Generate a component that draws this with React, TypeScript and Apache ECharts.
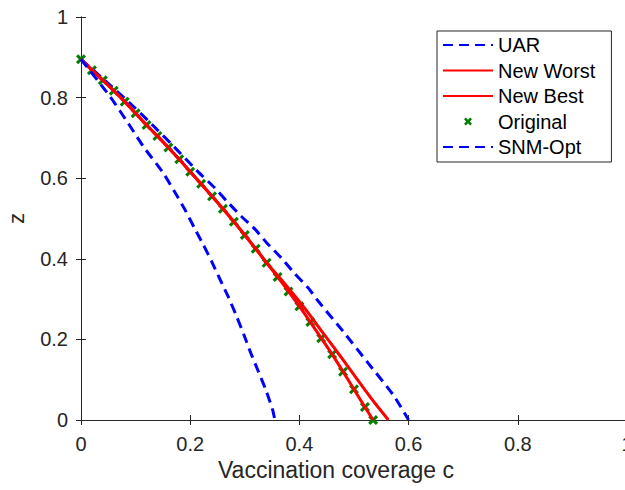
import { useEffect, useRef } from "react";
import * as echarts from "echarts";

// ---- data ----
const xTickLabels = ["0", "0.2", "0.4", "0.6", "0.8", "1"];
const yTickLabels = ["0", "0.2", "0.4", "0.6", "0.8", "1"];

const uarC = [0, 0.05, 0.1, 0.139, 0.169, 0.215, 0.245, 0.267, 0.294, 0.319, 0.34, 0.367, 0.389, 0.416, 0.435, 0.48, 0.526, 0.572, 0.6];
const uarZ = [0.895, 0.835, 0.773, 0.721, 0.68, 0.615, 0.576, 0.543, 0.505, 0.473, 0.44, 0.402, 0.367, 0.328, 0.294, 0.22, 0.141, 0.062, 0];

const worstC = [0, 0.04, 0.08, 0.12, 0.16, 0.2, 0.24, 0.28, 0.32, 0.34, 0.36, 0.38, 0.4, 0.42, 0.44, 0.46, 0.48, 0.5, 0.52, 0.54, 0.563];
const worstZ = [0.895, 0.843, 0.79, 0.732, 0.676, 0.616, 0.555, 0.492, 0.425, 0.39, 0.359, 0.327, 0.294, 0.259, 0.222, 0.186, 0.149, 0.112, 0.075, 0.039, 0];

const bestC = [0, 0.02, 0.04, 0.06, 0.08, 0.1, 0.12, 0.14, 0.16, 0.18, 0.2, 0.22, 0.24, 0.26, 0.28, 0.3, 0.32, 0.34, 0.36, 0.38, 0.4, 0.42, 0.44, 0.46, 0.48, 0.5, 0.52, 0.535];
const bestZ = [0.895, 0.868, 0.843, 0.817, 0.79, 0.761, 0.732, 0.705, 0.676, 0.647, 0.616, 0.586, 0.555, 0.524, 0.492, 0.459, 0.425, 0.39, 0.355, 0.319, 0.282, 0.243, 0.203, 0.163, 0.12, 0.076, 0.032, 0];

const origC = bestC;
const origZ = bestZ;

const snmC = [0, 0.053, 0.09, 0.114, 0.15, 0.172, 0.19, 0.209, 0.224, 0.239, 0.255, 0.27, 0.285, 0.2985, 0.311, 0.325, 0.339, 0.351, 0.355];
const snmZ = [0.895, 0.803, 0.729, 0.679, 0.614, 0.565, 0.523, 0.473, 0.435, 0.394, 0.348, 0.305, 0.257, 0.211, 0.166, 0.12, 0.073, 0.025, 0];

const zip = (a: number[], b: number[]) => a.map((v, i) => [v, b[i]]);

const FONT = "Liberation Sans, Arial, Helvetica, sans-serif";
const TXT = "#262626";
const XMARK = "path://M0,2.2 L2.2,0 L5,2.8 L7.8,0 L10,2.2 L7.2,5 L10,7.8 L7.8,10 L5,7.2 L2.2,10 L0,7.8 L2.8,5 Z";

export default function App() {
  const ref = useRef<HTMLDivElement>(null);
  useEffect(() => {
    if (!ref.current) return;
    const chart = echarts.init(ref.current, undefined, { renderer: "svg" });
    const axisCommon = {
      type: "value" as const,
      min: 0,
      max: 1,
      interval: 0.2,
      axisLine: { show: true, lineStyle: { color: TXT, width: 1 } },
      axisTick: { show: true, inside: true, length: 5, lineStyle: { color: TXT, width: 1 } },
      splitLine: { show: false },
    };
    const dashed = { color: "#0000ff", width: 3, type: [10, 6] as number[] };
    const hideSym = { opacity: 0 };
    chart.setOption({
      animation: false,
      backgroundColor: "#ffffff",
      grid: { left: 81, top: 17, width: 546, height: 403, containLabel: false, outerBoundsMode: "none" },
      xAxis: [
        {
          ...axisCommon,
          position: "bottom",
          axisLabel: {
            color: TXT, fontSize: 20, fontFamily: FONT, margin: 14,
            formatter: (v: number) => xTickLabels[Math.round(v * 5)] ?? "",
          },
          name: "Vaccination coverage c",
          nameLocation: "middle",
          nameGap: 35,
          nameTextStyle: { color: TXT, fontSize: 23, fontFamily: FONT, padding: [0, 36, 0, 0] },
        },
        { ...axisCommon, position: "top", axisLabel: { show: false } },
      ],
      yAxis: [
        {
          ...axisCommon,
          position: "left",
          axisLabel: {
            color: TXT, fontSize: 20, fontFamily: FONT, margin: 13,
            formatter: (v: number) => yTickLabels[Math.round(v * 5)] ?? "",
          },
          name: "z",
          nameLocation: "middle",
          nameGap: 54,
          nameTextStyle: { color: TXT, fontSize: 22, fontFamily: FONT },
        },
        { ...axisCommon, position: "right", axisLabel: { show: false } },
      ],
      legend: {
        orient: "vertical",
        left: 437,
        top: 31,
        itemWidth: 50,
        itemHeight: 8,
        itemGap: 1.5,
        padding: [2, 16, 3, 5],
        backgroundColor: "#ffffff",
        borderColor: TXT,
        borderWidth: 1,
        textStyle: { color: "#000000", fontSize: 20, fontFamily: FONT, lineHeight: 24 },
        data: [
          { name: "UAR", itemStyle: hideSym },
          { name: "New Worst", itemStyle: hideSym },
          { name: "New Best", itemStyle: hideSym },
          { name: "Original", icon: XMARK },
          { name: "SNM-Opt", itemStyle: hideSym },
        ],
      },
      series: [
        {
          name: "UAR", type: "line", data: zip(uarC, uarZ), symbol: "none", smooth: 0.2,
          lineStyle: dashed, itemStyle: { color: "#0000ff" },
        },
        {
          name: "New Worst", type: "line", data: zip(worstC, worstZ), symbol: "none", smooth: 0.2,
          lineStyle: { color: "#ff0000", width: 3 }, itemStyle: { color: "#ff0000" },
        },
        {
          name: "New Best", type: "line", data: zip(bestC, bestZ), symbol: "none", smooth: 0.2,
          lineStyle: { color: "#ff0000", width: 3 }, itemStyle: { color: "#ff0000" },
        },
        {
          name: "Original", type: "scatter", data: zip(origC, origZ), symbol: XMARK, symbolSize: 10,
          itemStyle: { color: "#008000", opacity: 1 },
        },
        {
          name: "SNM-Opt", type: "line", data: zip(snmC, snmZ), symbol: "none", smooth: 0.2,
          lineStyle: dashed, itemStyle: { color: "#0000ff" },
        },
      ],
    });
    return () => chart.dispose();
  }, []);
  return (
    <div
      ref={ref}
      style={{ position: "absolute", left: 0, top: 0, width: 625, height: 490, background: "#fff" }}
    />
  );
}
